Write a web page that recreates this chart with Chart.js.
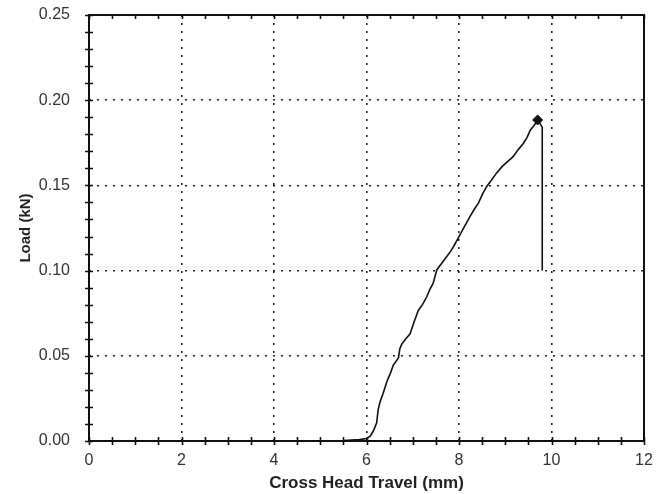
<!DOCTYPE html>
<html>
<head>
<meta charset="utf-8">
<script src="https://cdn.jsdelivr.net/npm/chart.js@4/dist/chart.umd.min.js"></script>
<style>
html,body{margin:0;padding:0;background:#fff;}
#wrap{width:661px;height:494px;position:relative;}
</style>
</head>
<body>
<div id="wrap"><canvas id="c" width="661" height="494"></canvas></div>
<script>
// ---- data ----
const travel = [0, 2, 4, 5.5, 5.85, 6.0, 6.08, 6.15, 6.22, 6.25, 6.29, 6.36, 6.44, 6.52, 6.58, 6.69, 6.72, 6.76, 6.85, 6.94, 7.03, 7.12, 7.21, 7.30, 7.37, 7.44, 7.52, 7.59, 7.70, 7.81, 7.88, 8.00, 8.12, 8.24, 8.33, 8.42, 8.51, 8.60, 8.70, 8.81, 8.93, 9.05, 9.17, 9.28, 9.39, 9.47, 9.54, 9.62, 9.70, 9.76, 9.80, 9.80];
const load   = [0, 0, 0, 0.0003, 0.0008, 0.0015, 0.0028, 0.006, 0.0107, 0.018, 0.0227, 0.028, 0.0348, 0.040, 0.0446, 0.0488, 0.054, 0.0567, 0.060, 0.0627, 0.070, 0.0766, 0.080, 0.0845, 0.089, 0.0925, 0.1004, 0.103, 0.107, 0.111, 0.114, 0.120, 0.126, 0.1318, 0.136, 0.1396, 0.145, 0.1494, 0.153, 0.1572, 0.161, 0.164, 0.1669, 0.171, 0.1746, 0.178, 0.1824, 0.185, 0.1884, 0.1860, 0.1840, 0.100];
const peakTravel = [9.70];
const peakLoad = [0.1884];
const xTitle = "Cross Head Travel (mm)";
const yTitle = "Load (kN)";

const curve = travel.map((x, i) => ({x: x, y: load[i]}));
const peak = peakTravel.map((x, i) => ({x: x, y: peakLoad[i]}));

const frame = {
  id: 'frame',
  afterDraw(chart) {
    const {ctx, chartArea: a, scales} = chart;
    const xs = scales.x, ys = scales.y;
    ctx.save();
    ctx.strokeStyle = '#111';
    ctx.lineWidth = 2;
    ctx.strokeRect(a.left, a.top, a.right - a.left, a.bottom - a.top);
    ctx.lineWidth = 1.6;
    ctx.beginPath();
    for (let i = 0; i <= 24; i++) {
      const px = Math.round(xs.getPixelForValue(i * 0.5)) + 0.5;
      ctx.moveTo(px, a.bottom - 4); ctx.lineTo(px, a.bottom + 4);
      ctx.moveTo(px, a.top); ctx.lineTo(px, a.top + 4);
    }
    for (let i = 0; i <= 25; i++) {
      const py = Math.round(ys.getPixelForValue(i * 0.01)) + 0.5;
      ctx.moveTo(a.left - 4, py); ctx.lineTo(a.left + 4, py);
    }
    ctx.stroke();
    ctx.restore();
  }
};

new Chart(document.getElementById('c'), {
  type: 'scatter',
  data: {
    datasets: [
      {
        data: curve,
        showLine: true,
        borderColor: '#111',
        borderWidth: 1.6,
        pointRadius: 0,
        tension: 0,
        order: 2
      },
      {
        data: peak,
        showLine: false,
        pointStyle: 'rectRot',
        pointRadius: 5,
        backgroundColor: '#111',
        borderColor: '#111',
        borderWidth: 1,
        order: 1
      }
    ]
  },
  options: {
    responsive: false,
    animation: false,
    devicePixelRatio: 1,
    layout: {padding: {left: 0, top: 15, right: 17, bottom: 0}},
    plugins: {legend: {display: false}, tooltip: {enabled: false}},
    scales: {
      x: {
        type: 'linear', min: 0, max: 12,
        afterFit(s) { s.height = 53; s.paddingLeft = 0; s.paddingRight = 0; },
        ticks: {stepSize: 2, color: '#333', padding: 10, font: {family: 'Liberation Sans, Arial, sans-serif', size: 16}},
        grid: {
          drawTicks: false,
          lineWidth: 1.6,
          color: (c) => (c.tick && (c.tick.value === 0 || c.tick.value === 12)) ? 'rgba(0,0,0,0)' : '#222'
        },
        border: {display: false, dash: [2, 6]},
        title: {display: true, text: xTitle, color: '#222', padding: {top: 0, bottom: 0}, font: {family: 'Liberation Sans, Arial, sans-serif', size: 17, weight: 'bold'}}
      },
      y: {
        type: 'linear', min: 0, max: 0.25,
        afterFit(s) { s.width = 89; s.paddingTop = 0; s.paddingBottom = 0; },
        ticks: {stepSize: 0.05, color: '#333', padding: 19, font: {family: 'Liberation Sans, Arial, sans-serif', size: 16}, callback: (v) => Number(v).toFixed(2)},
        grid: {
          drawTicks: false,
          lineWidth: 1.6,
          color: (c) => (c.tick && (Math.abs(c.tick.value) < 1e-9 || Math.abs(c.tick.value - 0.25) < 1e-9)) ? 'rgba(0,0,0,0)' : '#222'
        },
        border: {display: false, dash: [2, 6]},
        title: {display: true, text: yTitle, color: '#222', padding: {top: 17, bottom: 0}, font: {family: 'Liberation Sans, Arial, sans-serif', size: 15, weight: 'bold'}}
      }
    }
  },
  plugins: [frame]
});
</script>
</body>
</html>
